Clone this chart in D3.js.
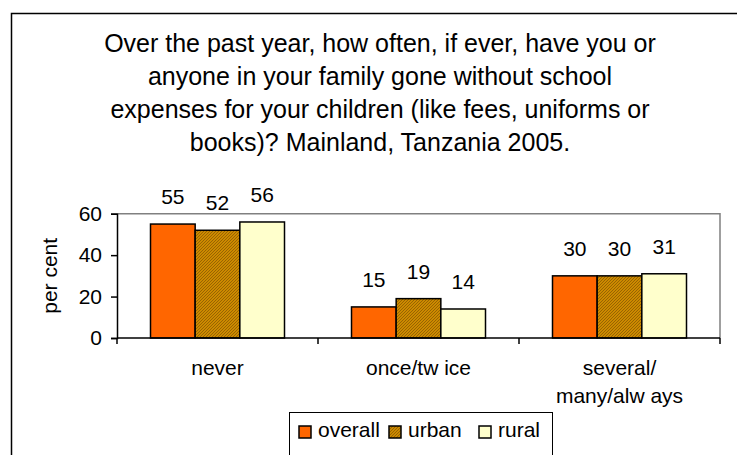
<!DOCTYPE html>
<html>
<head>
<meta charset="utf-8">
<script src="https://cdn.jsdelivr.net/npm/d3@7"></script>
<style>
  body { margin: 0; background: #fff; }
  svg text { font-family: "Liberation Sans", Arial, sans-serif; fill: #000; }
</style>
</head>
<body>
<div class="chart"></div>
<script>
var width = 737, height = 455;

var titleLines = ["Over the past year, how often, if ever, have you or",
  "anyone in your family gone without school",
  "expenses for your children (like fees, uniforms or",
  "books)? Mainland, Tanzania 2005."];
var categories = ["never", "once/tw ice", "several/\nmany/alw ays"];
var series = ["overall", "urban", "rural"];
var overall = [55, 15, 30];
var urban = [52, 19, 30];
var rural = [56, 14, 31];
var yTicks = [0, 20, 40, 60];
var colors = ["#ff6600", "url(#hatch)", "#ffffcc"];

var plot = { left: 117, right: 720, top: 213.7, bottom: 338 };

var svg = d3.select(".chart")
  .append("svg")
  .attr("width", width)
  .attr("height", height);

// hatched fill for urban
var pat = svg.append("defs").append("pattern")
  .attr("id", "hatch")
  .attr("patternUnits", "userSpaceOnUse")
  .attr("width", 3).attr("height", 3);
pat.append("rect").attr("width", 3).attr("height", 3).attr("fill", "#cc8a00");
pat.append("path").attr("d", "M0,3 L3,0").attr("stroke", "#8a5a00").attr("stroke-width", 0.8);

// outer frame
svg.append("rect")
  .attr("x", 11.5).attr("y", 13.5)
  .attr("width", 740).attr("height", 460)
  .attr("fill", "none").attr("stroke", "#000").attr("stroke-width", 1.5);

// title
svg.append("g").selectAll("text")
  .data(titleLines)
  .enter().append("text")
  .attr("x", 380)
  .attr("y", function(d, i) { return 52 + i * 33; })
  .attr("text-anchor", "middle")
  .style("font-size", "25px")
  .text(function(d) { return d; });

var x0 = d3.scaleBand().domain(categories).range([plot.left, plot.right]);
var x1 = d3.scaleBand().domain(series)
  .range([x0.bandwidth() / 6, x0.bandwidth() * 5 / 6]);
var y = d3.scaleLinear().domain([0, 60]).range([plot.bottom, plot.top]);

// gray top and right border of plot area
svg.append("path")
  .attr("d", "M" + plot.left + "," + plot.top + "H" + plot.right + "V" + plot.bottom)
  .attr("fill", "none").attr("stroke", "#808080").attr("stroke-width", 1.5);

var table = categories.map(function(c, i) {
  return { cat: c, vals: [overall[i], urban[i], rural[i]] };
});

var groups = svg.append("g").selectAll("g")
  .data(table)
  .enter().append("g")
  .attr("transform", function(d) { return "translate(" + x0(d.cat) + ",0)"; });

groups.selectAll("rect")
  .data(function(d) { return d.vals.map(function(v, j) { return { s: series[j], v: v, j: j }; }); })
  .enter().append("rect")
  .attr("x", function(d) { return x1(d.s); })
  .attr("y", function(d) { return y(d.v); })
  .attr("width", x1.bandwidth())
  .attr("height", function(d) { return y(0) - y(d.v); })
  .attr("fill", function(d) { return colors[d.j]; })
  .attr("stroke", "#000").attr("stroke-width", 1.5);

// value labels
groups.selectAll("text.lbl")
  .data(function(d) { return d.vals.map(function(v, j) { return { s: series[j], v: v }; }); })
  .enter().append("text")
  .attr("class", "lbl")
  .attr("x", function(d) { return x1(d.s) + x1.bandwidth() / 2; })
  .attr("y", function(d) { return y(d.v) - 20; })
  .attr("text-anchor", "middle")
  .style("font-size", "21px")
  .text(function(d) { return d.v; });

// y axis
var yAxis = svg.append("g")
  .attr("transform", "translate(" + plot.left + ",0)")
  .call(d3.axisLeft(y).tickValues(yTicks).tickSize(6).tickPadding(9));
yAxis.select(".domain").attr("stroke", "#000").attr("stroke-width", 1.5);
yAxis.selectAll(".tick line").attr("stroke", "#000").attr("stroke-width", 1.5);
yAxis.selectAll(".tick text")
  .style("font-size", "21px")
  .attr("font-family", null);

svg.append("text")
  .attr("transform", "translate(57," + ((plot.top + plot.bottom) / 2) + ") rotate(-90)")
  .attr("text-anchor", "middle")
  .style("font-size", "21px")
  .text("per cent");

// x axis with ticks at category boundaries
var bounds = categories.map(function(c) { return x0(c); }).concat([plot.right]);
svg.append("line")
  .attr("x1", plot.left).attr("x2", plot.right)
  .attr("y1", plot.bottom).attr("y2", plot.bottom)
  .attr("stroke", "#000").attr("stroke-width", 1.5);
svg.append("g").selectAll("line")
  .data(bounds)
  .enter().append("line")
  .attr("x1", function(d) { return d; }).attr("x2", function(d) { return d; })
  .attr("y1", plot.bottom).attr("y2", plot.bottom + 6)
  .attr("stroke", "#000").attr("stroke-width", 1.5);

svg.append("g").selectAll("text")
  .data(categories)
  .enter().append("text")
  .attr("text-anchor", "middle")
  .style("font-size", "21px")
  .each(function(d) {
    var t = d3.select(this);
    d.split("\n").forEach(function(part, k) {
      t.append("tspan")
        .attr("x", x0(d) + x0.bandwidth() / 2)
        .attr("y", 375 + k * 28)
        .text(part);
    });
  });

// legend
var legend = svg.append("g");
legend.append("rect")
  .attr("x", 289.5).attr("y", 412.5)
  .attr("width", 263).attr("height", 50)
  .attr("fill", "#fff").attr("stroke", "#000").attr("stroke-width", 1);
var legX = [299, 389, 479];
series.forEach(function(s, j) {
  legend.append("rect")
    .attr("x", legX[j]).attr("y", 426)
    .attr("width", 12).attr("height", 12)
    .attr("fill", colors[j]).attr("stroke", "#000").attr("stroke-width", 1.5);
  legend.append("text")
    .attr("x", legX[j] + 19).attr("y", 437)
    .style("font-size", "21px")
    .text(s);
});
</script>
</body>
</html>
